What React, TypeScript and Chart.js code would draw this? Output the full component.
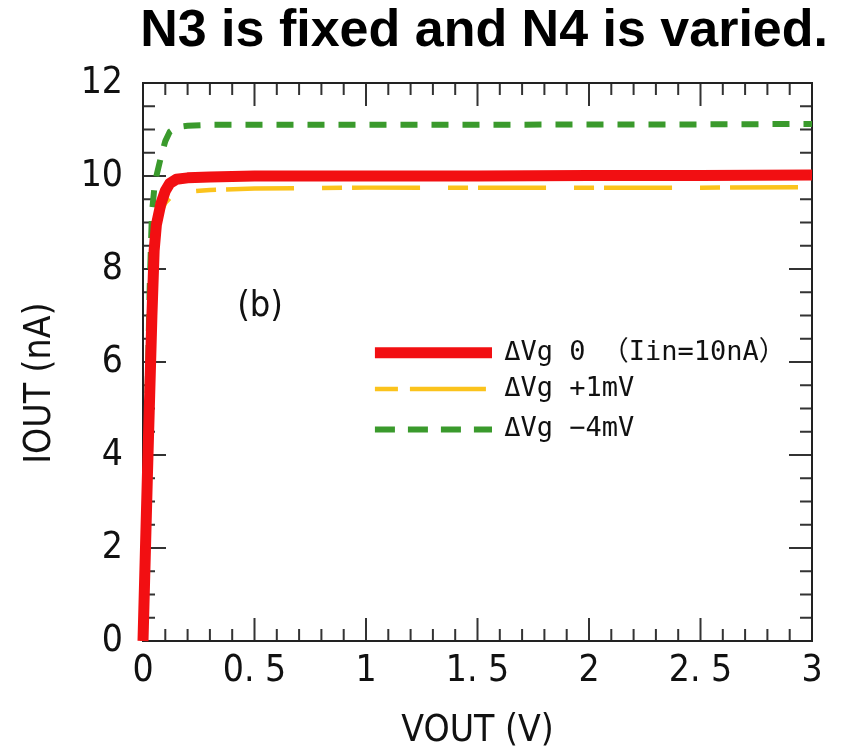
import React, { useEffect, useRef } from "react";
import { Chart, registerables } from "chart.js";

Chart.register(...registerables);

const titleText = "N3 is fixed and N4 is varied.";
const xTitle = "VOUT (V)";
const yTitle = "IOUT (nA)";
const panelLabel = "(b)";

const vout = [0, 0.01, 0.02, 0.03, 0.04, 0.05, 0.06, 0.08, 0.1, 0.12, 0.15, 0.2, 0.3, 0.5, 1, 1.5, 2, 2.5, 3];
const iout0 = [0, 1.8, 3.6, 5.3, 7.0, 8.4, 8.95, 9.4, 9.68, 9.84, 9.93, 9.96, 9.98, 10.0, 10.0, 10.0, 10.01, 10.01, 10.02];
const ioutPlus1 = [0, 1.8, 3.6, 5.3, 6.9, 8.3, 8.85, 9.22, 9.42, 9.52, 9.6, 9.66, 9.7, 9.73, 9.75, 9.75, 9.75, 9.75, 9.76];
const ioutMinus4 = [0, 2.6, 5.2, 7.6, 9.2, 9.7, 10.0, 10.4, 10.75, 10.95, 11.05, 11.08, 11.1, 11.1, 11.1, 11.1, 11.11, 11.11, 11.12];

const seriesLabels = ["ΔVg 0 （Iin=10nA）", "ΔVg +1mV", "ΔVg −4mV"];

const xTickLabels = ["0", "0. 5", "1", "1. 5", "2", "2. 5", "3"];
const yTickLabels = ["0", "2", "4", "6", "8", "10", "12"];

const NARROW = "'DejaVu Sans Condensed', 'Liberation Sans', sans-serif";
const LEGEND_FONT = "'DejaVu Sans Mono', 'Noto Sans CJK JP', monospace";

const frameTicks = {
  id: "frameTicks",
  beforeDatasetsDraw(chart: any) {
    const { ctx, chartArea } = chart;
    const xs = chart.scales.x;
    const ys = chart.scales.y;
    const { left, right, top, bottom } = chartArea;
    ctx.save();
    ctx.strokeStyle = "#333";
    ctx.lineWidth = 2;
    ctx.beginPath();
    for (let i = 1; i < 30; i++) {
      const v = i / 10;
      const px = xs.getPixelForValue(v);
      const len = i % 5 === 0 ? 23 : 12;
      ctx.moveTo(px, bottom);
      ctx.lineTo(px, bottom - len);
      ctx.moveTo(px, top);
      ctx.lineTo(px, top + len);
    }
    for (let i = 1; i < 24; i++) {
      const v = i / 2;
      const py = ys.getPixelForValue(v);
      const len = i % 4 === 0 ? 23 : 12;
      ctx.moveTo(left, py);
      ctx.lineTo(left + len, py);
      ctx.moveTo(right, py);
      ctx.lineTo(right - len, py);
    }
    ctx.stroke();
    ctx.strokeStyle = "#222";
    ctx.lineWidth = 2;
    ctx.strokeRect(left, top, right - left, bottom - top);
    ctx.restore();
  },
  afterDraw(chart: any) {
    const { ctx } = chart;
    const xs = chart.scales.x;
    const ys = chart.scales.y;
    ctx.save();
    ctx.fillStyle = "#111";
    ctx.font = `36px ${NARROW}`;
    ctx.textAlign = "center";
    ctx.textBaseline = "middle";
    ctx.fillText(panelLabel, xs.getPixelForValue(0.525), ys.getPixelForValue(7.2));
    const rows = [6.2, 5.42, 4.55];
    chart.data.datasets.forEach((ds: any, i: number) => {
      const y = ys.getPixelForValue(rows[i]);
      const x0 = xs.getPixelForValue(1.04);
      const x1 = xs.getPixelForValue(1.565);
      ctx.beginPath();
      ctx.strokeStyle = ds.borderColor;
      ctx.lineWidth = ds.borderWidth;
      ctx.setLineDash(ds.legendDash || []);
      ctx.moveTo(x0, y);
      ctx.lineTo(x1, y);
      ctx.stroke();
      ctx.setLineDash([]);
      ctx.fillStyle = "#111";
      ctx.font = `27px ${LEGEND_FONT}`;
      ctx.textAlign = "left";
      ctx.textBaseline = "middle";
      ctx.fillText(ds.label, xs.getPixelForValue(1.62), y);
    });
    ctx.restore();
  },
};

export default function App() {
  const ref = useRef<HTMLCanvasElement>(null);
  useEffect(() => {
    document.body.style.margin = "0";
    const canvas = ref.current!;
    const chart = new Chart(canvas, {
      type: "line",
      data: {
        datasets: [
          {
            label: seriesLabels[0],
            data: vout.map((x, i) => ({ x, y: iout0[i] })),
            borderColor: "#f20f12",
            borderWidth: 11,
            pointRadius: 0,
            tension: 0,
            clip: 8,
            borderJoinStyle: "round",
            borderCapStyle: "butt",
          } as any,
          {
            label: seriesLabels[1],
            data: vout.map((x, i) => ({ x, y: ioutPlus1[i] })),
            borderColor: "#fbc31c",
            borderWidth: 4.5,
            borderDash: [68, 28, 20, 10],
            legendDash: [23, 12, 76, 10],
            pointRadius: 0,
            tension: 0,
            clip: 8,
          } as any,
          {
            label: seriesLabels[2],
            data: vout.map((x, i) => ({ x, y: ioutMinus4[i] })),
            borderColor: "#3a9a2c",
            borderWidth: 6,
            borderDash: [17, 14],
            legendDash: [20, 13],
            pointRadius: 0,
            tension: 0,
            clip: 8,
          } as any,
        ],
      },
      options: {
        responsive: false,
        animation: false,
        layout: { padding: { left: 0, right: 15, top: 0, bottom: 0 } },
        plugins: {
          legend: { display: false },
          tooltip: { enabled: false },
          title: {
            display: true,
            text: titleText,
            align: "end",
            color: "#000",
            font: { family: "'Liberation Sans', Arial, sans-serif", size: 52, weight: "bold" },
            padding: { top: 0, bottom: 20.6 },
          },
        },
        scales: {
          x: {
            type: "linear",
            min: 0,
            max: 3,
            grid: { display: false, drawTicks: false },
            border: { display: false },
            ticks: {
              stepSize: 0.5,
              color: "#111",
              padding: 8,
              font: { family: NARROW, size: 37 },
              maxRotation: 0,
              callback: (v: any) => xTickLabels[Math.round(Number(v) * 2)] ?? "",
            },
            title: {
              display: true,
              text: xTitle,
              color: "#111",
              font: { family: NARROW, size: 37 },
              padding: { top: 0, bottom: 0 },
            },
            afterFit: (s: any) => {
              s.height = 113;
            },
          },
          y: {
            type: "linear",
            min: 0,
            max: 12,
            grid: { display: false, drawTicks: false },
            border: { display: false },
            ticks: {
              stepSize: 2,
              color: "#111",
              padding: 20,
              font: { family: NARROW, size: 37 },
              callback: (v: any) => yTickLabels[Math.round(Number(v) / 2)] ?? "",
            },
            title: {
              display: true,
              text: yTitle + "    ",
              color: "#111",
              font: { family: NARROW, size: 37 },
              padding: { top: 18, bottom: 0 },
            },
            afterFit: (s: any) => {
              s.width = 143;
            },
          },
          y2: {
            type: "linear",
            position: "right",
            min: 0,
            max: 12,
            grid: { display: false, drawTicks: false },
            border: { display: false },
            ticks: { display: false },
            afterFit: (s: any) => {
              s.width = 16;
            },
          },
        },
      },
      plugins: [frameTicks],
    });
    return () => chart.destroy();
  }, []);
  return (
    <div style={{ width: 843, height: 754 }}>
      <canvas ref={ref} width={843} height={754} style={{ width: 843, height: 754 }} />
    </div>
  );
}
